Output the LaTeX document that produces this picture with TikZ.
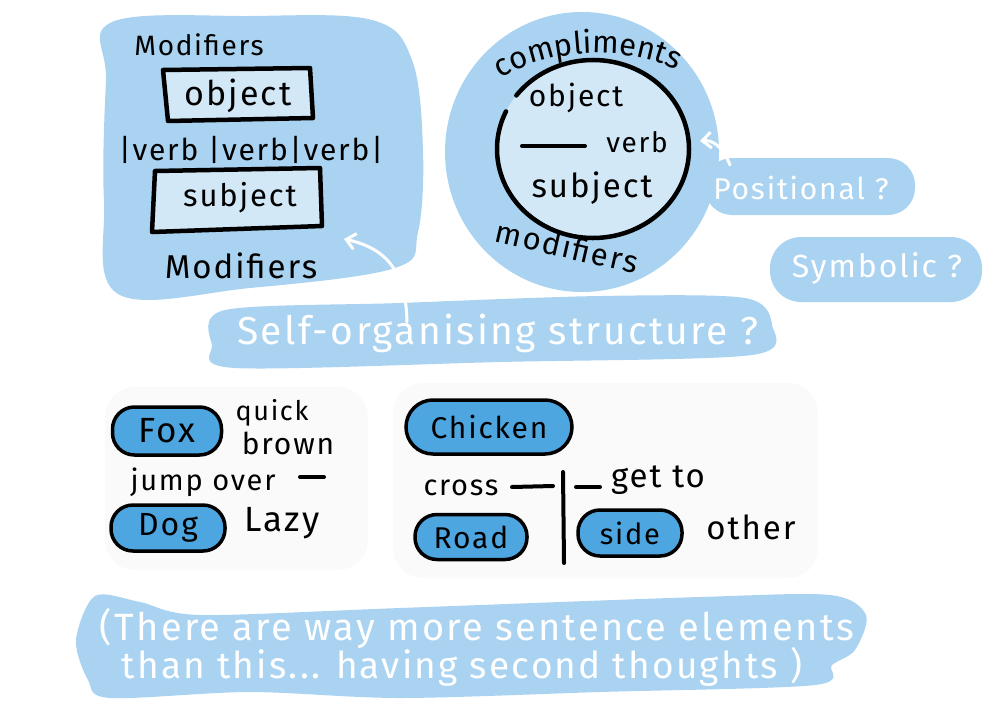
\documentclass[tikz,border=0pt]{standalone}
\usepackage{fontspec}
\setmainfont{Fira Sans}[LetterSpace=6]
\usetikzlibrary{decorations.text,arrows.meta}
\newcommand\fsz[1]{\fontsize{#1}{#1}\selectfont}
\definecolor{blob}{HTML}{A9D3F1}
\definecolor{inner}{HTML}{D3E8F7}
\definecolor{pillblue}{HTML}{4EA6E1}
\definecolor{card}{HTML}{FAFAFA}
\tikzset{
  blobfill/.style={fill=blob, draw=none},
  inkbox/.style={draw=black, line width=4.5pt, fill=inner, line join=round},
  ink/.style={text=black, inner sep=0pt},
  wtext/.style={text=white, inner sep=0pt},
  pill/.style={draw=black, line width=3.5pt, fill=pillblue, rounded corners=22pt, inner sep=0pt},
  inkline/.style={draw=black, line width=4pt, line cap=round},
  warrow/.style={draw=white, line width=3pt, line cap=round, -{Straight Barb[length=9pt,width=16pt,line width=3pt]}},
}
\begin{document}
\begin{tikzpicture}[x=1pt,y=-1pt]
\useasboundingbox (0,0) rectangle (1000,717);
% ---- backgrounds ----
\fill[card, rounded corners=30pt] (105,387) rectangle (368,570);
\fill[card, rounded corners=30pt] (393,383) rectangle (818,578);
\path[blobfill] plot[smooth cycle, tension=0.6] coordinates {(112,22) (250,16) (372,20) (412,60) (423,150) (418,232) (395,268) (250,288) (118,294) (104,200) (106,80)};
\path[blobfill] (582,152) ellipse [x radius=137, y radius=140];
\fill[blob, rounded corners=27pt] (705,158) rectangle (915,215);
\fill[blob, rounded corners=31pt] (770,237) rectangle (982,302);
\path[blobfill] plot[smooth cycle, tension=0.5] coordinates {(225,310) (400,303) (600,296) (745,298) (772,325) (752,355) (500,362) (235,368) (212,345)};
\path[blobfill] plot[smooth cycle, tension=0.5] coordinates {(95,596) (140,602) (200,615) (400,608) (700,597) (830,595) (866,615) (855,650) (832,665) (815,685) (600,692) (400,698) (250,692) (110,698) (88,680) (76,640)};
% ---- left blob content ----
\node[ink, font=\fsz{28}] (mod1) at (199,45) {Modifiers};
\path[inkbox] (163,70) -- (310,68) -- (313,118) -- (168,121) -- cycle;
\node[ink, font=\fsz{34}] (obj1) at (238,96) {object};
\node[ink, font=\fsz{30}] (verbs) at (251,150) {|verb |verb|verb|};
\path[inkbox] (155,171) -- (320,168) -- (322,226) -- (152,232) -- cycle;
\node[ink, font=\fsz{31}] (subj1) at (240,198) {subject};
\node[ink, font=\fsz{33}] (mod2) at (241,266) {Modifiers};
% ---- circle blob content ----
\path[decorate, decoration={text along path, text align=center, text={|\fsz{31}|compliments}}] (478,98) .. controls (522,46) and (640,36) .. (702,86);
\fill[inner] (593,149) ellipse [x radius=96, y radius=89];
\draw[black, line width=4.5pt, line cap=round] (593,149) ++(217:96 and 89) arc[start angle=217, end angle=565, x radius=96, y radius=89];
\node[ink, font=\fsz{30}] (obj2) at (576,98) {object};
\coordinate (vl1) at (522,146);
\coordinate (vl2) at (585,146);
\draw[inkline] (vl1) -- (vl2);
\node[ink, font=\fsz{28}] (verb2) at (637,142) {verb};
\node[ink, font=\fsz{33}] (subj2) at (592,188) {subject};
\node[ink, font=\fsz{31}, rotate=-13] (mod3) at (567,246) {modifiers};
% ---- question pills ----
\node[wtext, font=\fsz{30}] (pos) at (801,188) {Positional ?};
\node[wtext, font=\fsz{32}] (sym) at (877,268) {Symbolic ?};
\node[wtext, font=\fsz{39}] (self) at (498,333) {Self-organising structure ?};
\coordinate (pa) at (730,165);
\coordinate (pb) at (700,141);
\draw[warrow] (pa) .. controls (722,145) and (712,140) .. (pb);
\coordinate (sa) at (407,322);
\coordinate (sb) at (344,239);
\draw[warrow] (sa) .. controls (406,270) and (385,248) .. (sb);
% ---- fox / dog ----
\node[pill, minimum width=109pt, minimum height=48pt, font=\fsz{35}] (fox) at (167,431) {Fox};
\node[ink, font=\fsz{27}] (quick) at (272,413) {quick};
\node[ink, font=\fsz{30}] (brown) at (288,443) {brown};
\node[ink, font=\fsz{29}] (jump) at (203,482) {jump over};
\coordinate (j1) at (300,477);
\coordinate (j2) at (324,477);
\draw[inkline] (j1) -- (j2);
\node[pill, minimum width=114pt, minimum height=46pt, font=\fsz{32}] (dog) at (168,528) {Dog};
\node[ink, font=\fsz{35}] (lazy) at (282,523) {Lazy};
% ---- chicken ----
\node[pill, minimum width=166pt, minimum height=54pt, rounded corners=27pt, font=\fsz{30}] (chick) at (489,427) {Chicken};
\node[ink, font=\fsz{29}] (cross) at (461,488) {cross};
\coordinate (c1) at (512,487);
\coordinate (c2) at (553,486);
\draw[inkline] (c1) -- (c2);
\coordinate (v1) at (563,472);
\coordinate (v2) at (564,563);
\draw[inkline] (v1) -- (v2);
\coordinate (g1) at (576,487);
\coordinate (g2) at (600,487);
\draw[inkline] (g1) -- (g2);
\node[ink, font=\fsz{33}] (getto) at (658,480) {get to};
\node[pill, minimum width=112pt, minimum height=45pt, font=\fsz{30}] (road) at (471,537) {Road};
\node[pill, minimum width=104pt, minimum height=46pt, font=\fsz{29}] (side) at (630,533) {side};
\node[ink, font=\fsz{33}] (other) at (751,527) {other};
% ---- bottom note ----
\node[wtext, font=\fsz{38}] (note1) at (477,628) {(There are way more sentence elements};
\node[wtext, font=\fsz{37}] (note2) at (462,667) {than this... having second thoughts )};
\end{tikzpicture}
\end{document}
